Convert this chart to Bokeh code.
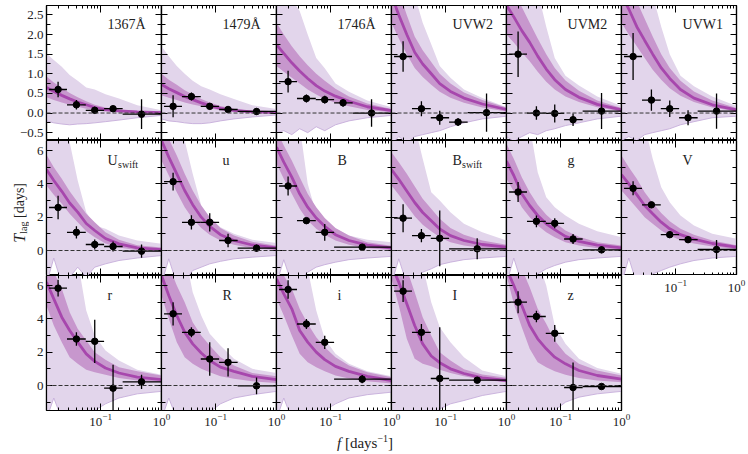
import numpy as np
from bokeh.plotting import figure
from bokeh.models import (Range1d, LogAxis, LinearAxis, SingleIntervalTicker, FixedTicker,
                          LogTickFormatter, Span, Label, ColumnDataSource,
                          CustomJSTickFormatter, Row, Column, Div)
from bokeh.embed import file_html
from bokeh.resources import INLINE

# ---------------- data ----------------
FREQ = [0.0129, 0.017, 0.023, 0.031, 0.042, 0.058, 0.08, 0.12, 0.2, 0.4, 1.0]

# axis ticks
X_MAJOR = [0.01, 0.1, 1.0]
X_MINOR = [0.02, 0.03, 0.04, 0.05, 0.06, 0.07, 0.08, 0.09,
           0.2, 0.3, 0.4, 0.5, 0.6, 0.7, 0.8, 0.9]

# binned points (frequency centre and bin edges)
PT_F5 = [0.02, 0.04, 0.08, 0.16, 0.47]
PT_LO5 = [0.0142, 0.028, 0.057, 0.114, 0.23]
PT_HI5 = [0.028, 0.057, 0.114, 0.23, 1.0]
PT_F4 = [0.02, 0.04, 0.08, 0.33]
PT_LO4 = [0.0142, 0.028, 0.057, 0.114]
PT_HI4 = [0.028, 0.057, 0.114, 1.0]

A1367_MID = [0.65, 0.55, 0.45, 0.36, 0.28, 0.21, 0.14, 0.085, 0.055, 0.03, 0.01]
A1367_LO1 = [0.40, 0.33, 0.27, 0.21, 0.16, 0.11, 0.07, 0.04, 0.02, 0.00, -0.01]
A1367_HI1 = [0.93, 0.78, 0.64, 0.51, 0.40, 0.30, 0.21, 0.14, 0.09, 0.05, 0.03]
A1367_LO2 = [-0.20, -0.25, -0.28, -0.30, -0.28, -0.27, -0.25, -0.22, -0.18, -0.12, -0.06]
A1367_HI2 = [1.52, 1.35, 1.18, 0.97, 0.82, 0.65, 0.60, 0.48, 0.37, 0.20, 0.07]
A1367_Y = [0.60, 0.21, 0.07, 0.11, -0.03]
A1367_E = [0.20, 0.12, 0.09, 0.06, 0.38]

A1479_MID = [0.73, 0.62, 0.52, 0.42, 0.34, 0.26, 0.19, 0.12, 0.07, 0.03, 0.01]
A1479_LO1 = [0.45, 0.39, 0.33, 0.27, 0.22, 0.17, 0.12, 0.07, 0.03, 0.01, 0.00]
A1479_HI1 = [1.00, 0.85, 0.72, 0.58, 0.47, 0.36, 0.27, 0.18, 0.11, 0.05, 0.02]
A1479_LO2 = [-0.15, -0.20, -0.22, -0.25, -0.27, -0.27, -0.25, -0.20, -0.15, -0.10, -0.05]
A1479_HI2 = [1.70, 1.45, 1.20, 1.00, 0.82, 0.68, 0.60, 0.48, 0.36, 0.20, 0.10]
A1479_Y = [0.17, 0.42, 0.17, 0.09, 0.04]
A1479_E = [0.28, 0.10, 0.08, 0.05, 0.08]

A1746_MID = [1.74, 1.52, 1.28, 1.07, 0.88, 0.70, 0.56, 0.43, 0.30, 0.16, 0.06]
A1746_LO1 = [1.20, 1.05, 0.90, 0.75, 0.60, 0.47, 0.36, 0.26, 0.17, 0.08, 0.02]
A1746_HI1 = [2.30, 2.00, 1.70, 1.45, 1.22, 1.00, 0.82, 0.62, 0.42, 0.24, 0.10]
A1746_LO2 = [-0.50, -0.45, -0.55, -0.40, -0.50, -0.35, -0.45, -0.30, -0.20, -0.12, -0.06]
A1746_HI2 = [3.50, 3.20, 2.90, 2.60, 2.00, 1.40, 1.14, 0.75, 0.54, 0.32, 0.15]
A1746_Y = [0.80, 0.37, 0.34, 0.26, 0.00]
A1746_E = [0.28, 0.10, 0.10, 0.10, 0.35]

UVW2_MID = [3.00, 2.50, 2.00, 1.55, 1.25, 1.00, 0.75, 0.55, 0.38, 0.23, 0.09]
UVW2_LO1 = [2.30, 1.90, 1.50, 1.15, 0.92, 0.72, 0.54, 0.39, 0.26, 0.14, 0.04]
UVW2_HI1 = [3.70, 3.10, 2.50, 1.95, 1.60, 1.30, 1.00, 0.75, 0.52, 0.33, 0.14]
UVW2_LO2 = [-0.80, -0.60, -0.75, -0.60, -0.55, -0.50, -0.45, -0.35, -0.25, -0.15, -0.08]
UVW2_HI2 = [4.00, 3.80, 3.50, 3.00, 2.30, 1.75, 1.20, 0.90, 0.60, 0.38, 0.15]
UVW2_Y = [1.44, 0.11, -0.12, -0.23, 0.01]
UVW2_E = [0.39, 0.19, 0.18, 0.10, 0.49]

UVM2_MID = [2.75, 2.45, 2.10, 1.80, 1.45, 1.12, 0.85, 0.60, 0.40, 0.22, 0.08]
UVM2_LO1 = [2.00, 1.80, 1.55, 1.32, 1.05, 0.80, 0.60, 0.42, 0.28, 0.15, 0.04]
UVM2_HI1 = [3.50, 3.10, 2.70, 2.30, 1.90, 1.50, 1.15, 0.83, 0.57, 0.32, 0.13]
UVM2_LO2 = [-0.60, -0.72, -0.60, -0.50, -0.55, -0.45, -0.40, -0.32, -0.25, -0.15, -0.08]
UVM2_HI2 = [4.50, 4.30, 4.00, 3.60, 3.10, 2.20, 1.40, 0.95, 0.70, 0.42, 0.18]
UVM2_Y = [1.50, 0.00, -0.01, -0.17, 0.05]
UVM2_E = [0.58, 0.17, 0.23, 0.16, 0.46]

UVW1_MID = [3.00, 2.65, 2.20, 1.85, 1.50, 1.15, 0.88, 0.60, 0.38, 0.21, 0.08]
UVW1_LO1 = [2.30, 2.00, 1.70, 1.40, 1.10, 0.85, 0.63, 0.44, 0.28, 0.14, 0.04]
UVW1_HI1 = [3.70, 3.30, 2.85, 2.40, 1.95, 1.50, 1.15, 0.82, 0.55, 0.32, 0.13]
UVW1_LO2 = [-0.70, -0.60, -0.70, -0.55, -0.50, -0.45, -0.40, -0.30, -0.22, -0.12, -0.08]
UVW1_HI2 = [4.50, 4.30, 4.00, 3.60, 3.00, 2.20, 1.50, 0.95, 0.68, 0.42, 0.18]
UVW1_Y = [1.44, 0.33, 0.11, -0.12, 0.05]
UVW1_E = [0.60, 0.27, 0.21, 0.19, 0.45]

USW_MID = [4.86, 4.20, 3.55, 2.85, 2.30, 1.62, 1.20, 0.72, 0.40, 0.16, 0.05]
USW_LO1 = [3.90, 3.35, 2.80, 2.20, 1.70, 1.15, 0.80, 0.42, 0.18, 0.02, -0.08]
USW_HI1 = [5.75, 5.00, 4.30, 3.55, 2.90, 2.20, 1.70, 1.10, 0.65, 0.32, 0.18]
USW_LO2 = [-2.0, -0.45, -2.0, -1.6, -1.0, -1.6, -1.0, -0.8, -0.6, -0.45, -0.30]
USW_HI2 = [10.0, 10.0, 9.0, 6.5, 4.2, 2.3, 1.5, 1.3, 0.9, 0.6, 0.4]
USW_Y = [2.58, 1.09, 0.36, 0.24, -0.04]
USW_E = [0.70, 0.37, 0.30, 0.30, 0.40]

LU_MID = [6.60, 5.60, 4.60, 3.60, 2.75, 2.00, 1.45, 0.95, 0.60, 0.33, 0.15]
LU_LO1 = [5.40, 4.50, 3.50, 2.60, 1.90, 1.35, 0.95, 0.60, 0.35, 0.14, 0.03]
LU_HI1 = [7.60, 6.70, 5.70, 4.60, 3.60, 2.70, 2.00, 1.35, 0.90, 0.52, 0.28]
LU_LO2 = [-2.0, -0.50, -2.0, -1.8, -1.2, -1.0, -0.8, -0.65, -0.5, -0.4, -0.3]
LU_HI2 = [10.0, 10.0, 9.0, 6.6, 4.6, 2.7, 2.0, 1.4, 1.0, 0.65, 0.45]
LU_Y = [4.13, 1.69, 1.69, 0.60, 0.14]
LU_E = [0.53, 0.43, 0.55, 0.40, 0.20]

BJ_MID = [6.20, 5.30, 4.40, 3.40, 2.60, 1.95, 1.45, 0.95, 0.60, 0.32, 0.15]
BJ_LO1 = [5.20, 4.30, 3.40, 2.50, 1.80, 1.30, 0.95, 0.60, 0.35, 0.14, 0.03]
BJ_HI1 = [7.20, 6.30, 5.40, 4.40, 3.40, 2.60, 1.95, 1.35, 0.90, 0.50, 0.28]
BJ_LO2 = [-2.0, -0.55, -2.0, -1.8, -1.3, -1.0, -0.85, -0.7, -0.55, -0.45, -0.35]
BJ_HI2 = [10.0, 10.0, 9.0, 7.5, 4.0, 2.2, 1.7, 1.3, 0.9, 0.65, 0.5]
BJ_Y = [3.87, 1.79, 1.09, 0.20]
BJ_E = [0.57, 0.15, 0.50, 0.10]

BSW_MID = [4.86, 4.27, 3.57, 2.88, 2.28, 1.79, 1.29, 0.89, 0.60, 0.36, 0.20]
BSW_LO1 = [3.90, 3.35, 2.70, 2.05, 1.55, 1.15, 0.80, 0.50, 0.30, 0.15, 0.05]
BSW_HI1 = [5.90, 5.30, 4.60, 3.85, 3.10, 2.50, 1.90, 1.35, 0.95, 0.60, 0.35]
BSW_LO2 = [-2.0, -0.5, -2.0, -1.8, -1.3, -1.1, -0.85, -0.7, -0.55, -0.45, -0.35]
BSW_HI2 = [10.0, 10.0, 9.5, 7.5, 5.5, 3.5, 3.0, 2.3, 1.6, 1.1, 0.6]
BSW_Y = [1.94, 0.89, 0.73, 0.10]
BSW_E = [0.84, 0.40, 1.67, 0.63]

LG_MID = [5.36, 4.50, 3.40, 2.70, 2.10, 1.60, 1.25, 0.85, 0.55, 0.32, 0.16]
LG_LO1 = [4.30, 3.55, 2.60, 2.00, 1.50, 1.10, 0.80, 0.50, 0.30, 0.14, 0.03]
LG_HI1 = [6.40, 5.50, 4.40, 3.50, 2.75, 2.15, 1.70, 1.20, 0.82, 0.50, 0.30]
LG_LO2 = [-2.0, -0.45, -2.0, -1.8, -1.4, -1.1, -0.9, -0.7, -0.55, -0.45, -0.35]
LG_HI2 = [10.0, 10.0, 9.5, 7.5, 4.7, 3.2, 2.6, 2.1, 1.6, 1.15, 0.8]
LG_Y = [3.51, 1.75, 1.63, 0.69, 0.04]
LG_E = [0.60, 0.35, 0.30, 0.30, 0.20]

VJ_MID = [4.56, 4.00, 3.35, 2.70, 2.20, 1.70, 1.30, 0.95, 0.68, 0.42, 0.20]
VJ_LO1 = [3.60, 3.10, 2.55, 2.00, 1.60, 1.20, 0.90, 0.62, 0.42, 0.24, 0.08]
VJ_HI1 = [5.70, 5.00, 4.30, 3.50, 2.85, 2.25, 1.75, 1.30, 0.95, 0.60, 0.32]
VJ_LO2 = [-2.0, -0.45, -2.0, -1.8, -1.4, -1.2, -1.0, -0.8, -0.6, -0.45, -0.35]
VJ_HI2 = [10.0, 10.0, 9.5, 7.5, 5.5, 3.8, 2.9, 2.1, 1.5, 1.0, 0.7]
VJ_Y = [3.73, 2.74, 0.95, 0.65, 0.06]
VJ_E = [0.42, 0.12, 0.20, 0.20, 0.57]

LR_MID = [6.20, 5.20, 4.10, 3.30, 2.60, 1.90, 1.45, 1.05, 0.75, 0.50, 0.35]
LR_LO1 = [4.80, 3.60, 2.60, 1.70, 1.30, 0.95, 0.80, 0.65, 0.45, 0.30, 0.20]
LR_HI1 = [7.50, 6.80, 5.80, 4.40, 3.40, 2.70, 2.00, 1.55, 1.10, 0.85, 0.60]
LR_LO2 = [-2.0, -0.75, -2.0, -2.0, -2.0, -1.8, -1.5, -1.1, -0.75, -0.5, -0.35]
LR_HI2 = [10.0, 10.0, 9.0, 8.0, 7.5, 4.5, 3.0, 2.1, 1.5, 0.95, 0.65]
LR_Y = [5.84, 2.79, 2.65, -0.16, 0.22]
LR_E = [0.50, 0.40, 1.30, 1.40, 0.43]

RJ_MID = [6.60, 5.40, 4.20, 3.20, 2.50, 1.95, 1.50, 1.10, 0.85, 0.55, 0.35]
RJ_LO1 = [5.40, 4.00, 2.60, 1.70, 1.30, 1.00, 0.80, 0.55, 0.40, 0.25, 0.15]
RJ_HI1 = [7.50, 7.20, 6.00, 5.00, 3.80, 3.00, 2.40, 1.70, 1.20, 0.75, 0.55]
RJ_LO2 = [-2.0, -0.75, -2.0, -2.0, -2.0, -2.0, -1.6, -1.1, -0.75, -0.55, -0.35]
RJ_HI2 = [10.0, 10.0, 9.0, 8.0, 5.6, 4.2, 3.1, 2.4, 1.6, 1.0, 0.75]
RJ_Y = [4.30, 3.19, 1.59, 1.39, -0.02]
RJ_E = [0.70, 0.30, 1.00, 0.85, 0.50]

LI_MID = [6.40, 5.50, 4.60, 3.30, 2.60, 2.00, 1.55, 1.15, 0.85, 0.55, 0.30]
LI_LO1 = [5.20, 4.20, 3.00, 1.90, 1.40, 1.10, 0.85, 0.60, 0.42, 0.25, 0.12]
LI_HI1 = [7.50, 6.60, 5.80, 4.60, 3.70, 2.90, 2.30, 1.70, 1.20, 0.80, 0.50]
LI_LO2 = [-2.0, -0.75, -2.0, -2.0, -2.0, -1.8, -1.5, -1.1, -0.75, -0.55, -0.4]
LI_HI2 = [10.0, 10.0, 9.5, 8.5, 7.0, 4.5, 2.8, 1.9, 1.3, 0.85, 0.55]
LI_Y = [5.76, 3.69, 2.59, 0.38]
LI_E = [0.55, 0.30, 0.40, 0.25]

IJ_MID = [7.20, 6.20, 4.90, 3.60, 2.50, 1.77, 1.37, 1.00, 0.72, 0.46, 0.30]
IJ_LO1 = [6.40, 4.80, 2.80, 1.60, 1.30, 1.15, 0.95, 0.75, 0.55, 0.35, 0.20]
IJ_HI1 = [7.50, 7.50, 7.00, 5.60, 4.10, 3.00, 2.00, 1.50, 0.97, 0.66, 0.46]
IJ_LO2 = [-2.0, -2.0, -2.0, -2.0, -2.0, -1.8, -1.4, -1.1, -0.9, -0.6, -0.35]
IJ_HI2 = [10.0, 10.0, 9.0, 8.0, 7.2, 5.0, 3.5, 2.6, 1.7, 0.9, 0.55]
IJ_Y = [5.66, 3.19, 0.42, 0.32]
IJ_E = [0.65, 0.50, 3.07, 0.15]

LZ_MID = [7.00, 6.00, 4.80, 3.60, 2.80, 2.20, 1.70, 1.30, 0.90, 0.60, 0.38]
LZ_LO1 = [6.60, 4.90, 3.50, 2.20, 1.40, 1.10, 0.85, 0.65, 0.45, 0.30, 0.20]
LZ_HI1 = [7.50, 7.50, 7.00, 5.90, 4.60, 3.70, 2.70, 1.90, 1.30, 0.90, 0.60]
LZ_LO2 = [-2.0, -2.0, -2.0, -2.0, -2.0, -1.8, -1.5, -1.0, -0.7, -0.5, -0.35]
LZ_HI2 = [10.0, 10.0, 9.0, 8.0, 7.5, 6.0, 3.6, 2.5, 1.6, 1.05, 0.70]
LZ_Y = [5.00, 4.14, 3.13, -0.12, -0.06]
LZ_E = [0.66, 0.35, 0.50, 1.50, 0.10]

# ---------------- style ----------------
FONT = "Liberation Serif"
TXT = "#222222"
LIGHT = "#e2d5eb"
MED = "#c797cd"
DARK = "#a747ad"
EDGE = "#c6aeda"
XR = (0.0129, 1.0)
YR_TOP = (-0.7, 2.74)
YR_LOW = (-1.5, 6.6)
LABEL_F = 0.13
FW, FH = 115, 135
LEFT_B = 46
YDIV_W = 40


def style_axis(ax, show, major=6, minor=4):
    ax.axis_line_color = "black"
    ax.axis_line_width = 1.2
    ax.major_tick_line_color = "black"
    ax.minor_tick_line_color = "black"
    ax.major_tick_line_width = 1
    ax.minor_tick_line_width = 1
    ax.major_tick_in = major
    ax.major_tick_out = 0
    ax.minor_tick_in = minor
    ax.minor_tick_out = 0
    ax.major_label_text_font = FONT
    if show:
        ax.major_label_text_color = TXT
        ax.major_label_text_font_size = "13px"
        ax.major_label_standoff = 3
    else:
        ax.major_label_text_color = None
        ax.major_label_text_font_size = "0px"
        ax.major_label_standoff = 0


def x_ticker():
    return FixedTicker(ticks=X_MAJOR, minor_ticks=X_MINOR)


def make_panel(row, col, name, sub, sub_dx, mid, lo1, hi1, lo2, hi2, pf, plo, phi, py, pe, xlab):
    yr = YR_TOP if row == 0 else YR_LOW
    if col == 0:
        mg = (0, 0, 0, -YDIV_W) if row == 1 else (0, 0, 0, 0)
    else:
        mg = (0, 0, 0, -20)
    p = figure(x_axis_type="log", x_range=Range1d(*XR), y_range=Range1d(*yr),
               frame_width=FW, frame_height=FH,
               min_border_left=LEFT_B if col == 0 else 10, min_border_right=10,
               min_border_top=5 if row == 0 else 0,
               min_border_bottom=20 if row == 2 else 0,
               output_backend="svg", toolbar_location=None,
               border_fill_alpha=0, background_fill_color="white",
               outline_line_color="black", outline_line_width=1.2, margin=mg)
    p.xgrid.visible = False
    p.ygrid.visible = False
    step = 0.5 if row == 0 else 2
    p.xaxis[0].ticker = x_ticker()
    p.xaxis[0].formatter = LogTickFormatter()
    p.yaxis[0].ticker = SingleIntervalTicker(interval=step, num_minor_ticks=2)
    p.add_layout(LogAxis(ticker=x_ticker()), "above")
    p.add_layout(LinearAxis(ticker=SingleIntervalTicker(interval=step, num_minor_ticks=2)), "right")
    for ax in p.xaxis:
        style_axis(ax, False, 7, 3)
    for ax in p.yaxis:
        style_axis(ax, False, 6, 4)
    if xlab:
        style_axis(p.below[0], True, 7, 3)
    if col == 0:
        lax = p.left[0]
        style_axis(lax, True, 6, 4)
        digits = 1 if row == 0 else 0
        lax.formatter = CustomJSTickFormatter(
            code="return tick.toFixed(%d).replace('-', '\\u2212');" % digits)

    p.varea(x=FREQ, y1=lo2, y2=hi2, fill_color=LIGHT)
    p.line(FREQ, lo2, line_color=EDGE, line_width=0.9)
    p.varea(x=FREQ, y1=lo1, y2=hi1, fill_color=MED)
    p.line(FREQ, mid, line_color=DARK, line_width=2.8)
    p.add_layout(Span(location=0, dimension="width", line_color="#333333",
                      line_dash="4 2", line_width=1))

    y = np.array(py)
    e = np.array(pe)
    src = ColumnDataSource(dict(f=pf, flo=plo, fhi=phi, y=y, ylo=y - e, yhi=y + e))
    p.segment(x0="flo", y0="y", x1="fhi", y1="y", source=src, line_color="black", line_width=1.3)
    p.segment(x0="f", y0="ylo", x1="f", y1="yhi", source=src, line_color="black", line_width=1.3)
    p.scatter(x="f", y="y", source=src, size=6.5, color="black")

    ly = 2.25 if row == 0 else 5.4
    p.add_layout(Label(x=LABEL_F, y=ly, text=name, text_font=FONT, text_font_size="14px",
                       text_color=TXT, text_baseline="middle"))
    if sub:
        p.add_layout(Label(x=LABEL_F, y=ly, x_offset=sub_dx, y_offset=-4, text=sub,
                           text_font=FONT, text_font_size="10px", text_color=TXT,
                           text_baseline="middle"))
    return p


SPEC = [
    (0, 0, "1367Å", None, 0, A1367_MID, A1367_LO1, A1367_HI1, A1367_LO2, A1367_HI2, 5, A1367_Y, A1367_E, False),
    (0, 1, "1479Å", None, 0, A1479_MID, A1479_LO1, A1479_HI1, A1479_LO2, A1479_HI2, 5, A1479_Y, A1479_E, False),
    (0, 2, "1746Å", None, 0, A1746_MID, A1746_LO1, A1746_HI1, A1746_LO2, A1746_HI2, 5, A1746_Y, A1746_E, False),
    (0, 3, "UVW2", None, 0, UVW2_MID, UVW2_LO1, UVW2_HI1, UVW2_LO2, UVW2_HI2, 5, UVW2_Y, UVW2_E, False),
    (0, 4, "UVM2", None, 0, UVM2_MID, UVM2_LO1, UVM2_HI1, UVM2_LO2, UVM2_HI2, 5, UVM2_Y, UVM2_E, False),
    (0, 5, "UVW1", None, 0, UVW1_MID, UVW1_LO1, UVW1_HI1, UVW1_LO2, UVW1_HI2, 5, UVW1_Y, UVW1_E, False),
    (1, 0, "U", "swift", 10.5, USW_MID, USW_LO1, USW_HI1, USW_LO2, USW_HI2, 5, USW_Y, USW_E, False),
    (1, 1, "u", None, 0, LU_MID, LU_LO1, LU_HI1, LU_LO2, LU_HI2, 5, LU_Y, LU_E, False),
    (1, 2, "B", None, 0, BJ_MID, BJ_LO1, BJ_HI1, BJ_LO2, BJ_HI2, 4, BJ_Y, BJ_E, False),
    (1, 3, "B", "swift", 9.5, BSW_MID, BSW_LO1, BSW_HI1, BSW_LO2, BSW_HI2, 4, BSW_Y, BSW_E, False),
    (1, 4, "g", None, 0, LG_MID, LG_LO1, LG_HI1, LG_LO2, LG_HI2, 5, LG_Y, LG_E, False),
    (1, 5, "V", None, 0, VJ_MID, VJ_LO1, VJ_HI1, VJ_LO2, VJ_HI2, 5, VJ_Y, VJ_E, False),
    (2, 0, "r", None, 0, LR_MID, LR_LO1, LR_HI1, LR_LO2, LR_HI2, 5, LR_Y, LR_E, True),
    (2, 1, "R", None, 0, RJ_MID, RJ_LO1, RJ_HI1, RJ_LO2, RJ_HI2, 5, RJ_Y, RJ_E, True),
    (2, 2, "i", None, 0, LI_MID, LI_LO1, LI_HI1, LI_LO2, LI_HI2, 4, LI_Y, LI_E, True),
    (2, 3, "I", None, 0, IJ_MID, IJ_LO1, IJ_HI1, IJ_LO2, IJ_HI2, 4, IJ_Y, IJ_E, True),
    (2, 4, "z", None, 0, LZ_MID, LZ_LO1, LZ_HI1, LZ_LO2, LZ_HI2, 5, LZ_Y, LZ_E, True),
]

rows = [[], [], []]
for (r, c, name, sub, sdx, mid, lo1, hi1, lo2, hi2, npt, py, pe, xlab) in SPEC:
    if npt == 5:
        pf, plo, phi = PT_F5, PT_LO5, PT_HI5
    else:
        pf, plo, phi = PT_F4, PT_LO4, PT_HI4
    rows[r].append(make_panel(r, c, name, sub, sdx, mid, lo1, hi1, lo2, hi2,
                              pf, plo, phi, py, pe, xlab))

# y-axis title (left of the middle row)
ydiv = Div(width=YDIV_W, height=FH, margin=(0, 0, 0, 0), text=(
    "<div style=\"width:%dpx;height:%dpx;display:flex;align-items:center;"
    "justify-content:center;padding-top:10px;box-sizing:border-box;\">"
    "<span style=\"writing-mode:vertical-rl;transform:rotate(180deg);"
    "font-family:'Liberation Serif';font-size:14px;color:#222;white-space:nowrap;\">"
    "<i style=\"font-size:16px\">T</i><sub style=\"font-size:10px\">lag</sub> [days]"
    "</span></div>") % (YDIV_W, FH))
rows[1].insert(0, ydiv)

# tick labels under the V panel (empty cell of the bottom row)
vax = figure(x_axis_type="log", x_range=Range1d(*XR), y_range=Range1d(0, 1),
             frame_width=FW, frame_height=1, min_border_left=10, min_border_right=10,
             min_border_top=0, min_border_bottom=0, y_axis_location=None,
             output_backend="svg", toolbar_location=None, outline_line_color=None,
             border_fill_alpha=0, background_fill_alpha=0, margin=(0, 0, 0, -20))
vax.xgrid.visible = False
vax.ygrid.visible = False
vx = vax.xaxis[0]
vx.ticker = x_ticker()
vx.formatter = LogTickFormatter()
style_axis(vx, True, 0, 0)
vx.axis_line_color = None
vx.major_tick_line_color = None
vx.minor_tick_line_color = None
rows[2].append(vax)

# x-axis title (below the bottom row)
xdiv = Div(width=740, height=20, margin=(0, 0, 0, 0), text=(
    "<div style=\"padding-left:337px;padding-top:2px;font-family:'Liberation Serif';"
    "font-size:15px;color:#222;white-space:nowrap;\">"
    "<i>f</i> [days<sup style=\"font-size:10px\">\u22121</sup>]</div>"))

layout = Column(Row(*rows[0], spacing=0), Row(*rows[1], spacing=0),
                Row(*rows[2], spacing=0), xdiv, spacing=0)

html = file_html(layout, INLINE, "Lag-frequency spectra")
open("out.html", "w").write(html)
